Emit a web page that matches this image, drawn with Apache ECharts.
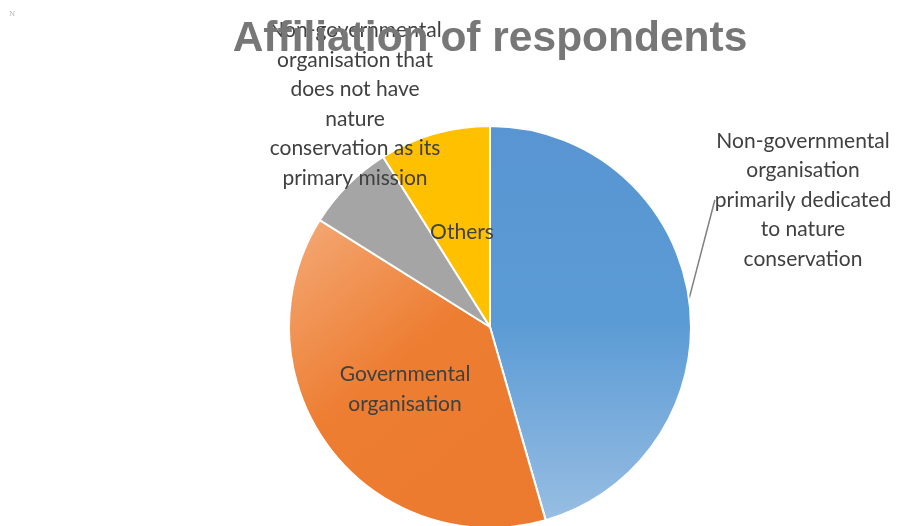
<!DOCTYPE html>
<html>
<head>
<meta charset="utf-8">
<script src="https://cdn.jsdelivr.net/npm/echarts@6/dist/echarts.min.js"></script>
<style>
html,body{margin:0;padding:0;background:#fff;}
#chart{width:898px;height:526px;}
</style>
</head>
<body>
<div id="chart"></div>
<script>
const titleText = 'Affiliation of respondents';
const categories = [
  'Non-governmental\norganisation\nprimarily dedicated\nto nature\nconservation',
  'Governmental\norganisation',
  'Non-governmental\norganisation that\ndoes not have\nnature\nconservation as its\nprimary mission',
  'Others'
];
const values = [51, 43, 8, 10];
const colors = [
  new echarts.graphic.LinearGradient(0, 0, 0, 1, [{offset: 0, color: '#5895d2'}, {offset: 0.5, color: '#5b9bd5'}, {offset: 1, color: '#98bee3'}]),
  new echarts.graphic.LinearGradient(0, 0, 1, 1, [{offset: 0, color: '#f4aa78'}, {offset: 0.45, color: '#ed7d31'}, {offset: 1, color: '#ec7a2e'}]),
  '#a5a5a5',
  '#ffc000'
];
// label anchor positions (label centres)
const labelPos = [[803, 200], [405, 389], [355, 104], [462, 232]];

const chart = echarts.init(document.getElementById('chart'), null, {renderer: 'canvas'});
chart.setOption({
  animation: false,
  backgroundColor: '#ffffff',
  title: {
    text: titleText,
    left: 485, top: 13, textAlign: 'center',
    textStyle: {fontFamily: 'Liberation Sans', fontWeight: 'bold', fontSize: 42.5, color: '#777777'}
  },
  graphic: [{
    type: 'text', left: 9, top: 11,
    style: {text: 'N', fontSize: 7, fill: '#b0b0b0', fontFamily: 'DejaVu Serif'}
  }],
  series: [{
    type: 'pie',
    center: [490, 327],
    radius: 201,
    startAngle: 90,
    clockwise: true,
    avoidLabelOverlap: false,
    itemStyle: {borderColor: '#ffffff', borderWidth: 2},
    label: {
      fontFamily: 'Lato', fontSize: 21, color: '#404040',
      lineHeight: 29.5, align: 'center'
    },
    labelLine: {show: false},
    labelLayout: function (p) {
      const pos = labelPos[p.dataIndex];
      return {x: pos[0], y: pos[1], align: 'center', verticalAlign: 'middle'};
    },
    data: categories.map((c, i) => ({
      name: c,
      value: values[i],
      itemStyle: {color: colors[i]},
      label: {position: i === 0 || i === 2 ? 'outside' : 'inside'},
      labelLine: i === 0 ? {show: true, length: 10, length2: 0, lineStyle: {color: '#7f7f7f', width: 1.5}} : {show: false}
    }))
  }]
});
</script>
</body>
</html>
